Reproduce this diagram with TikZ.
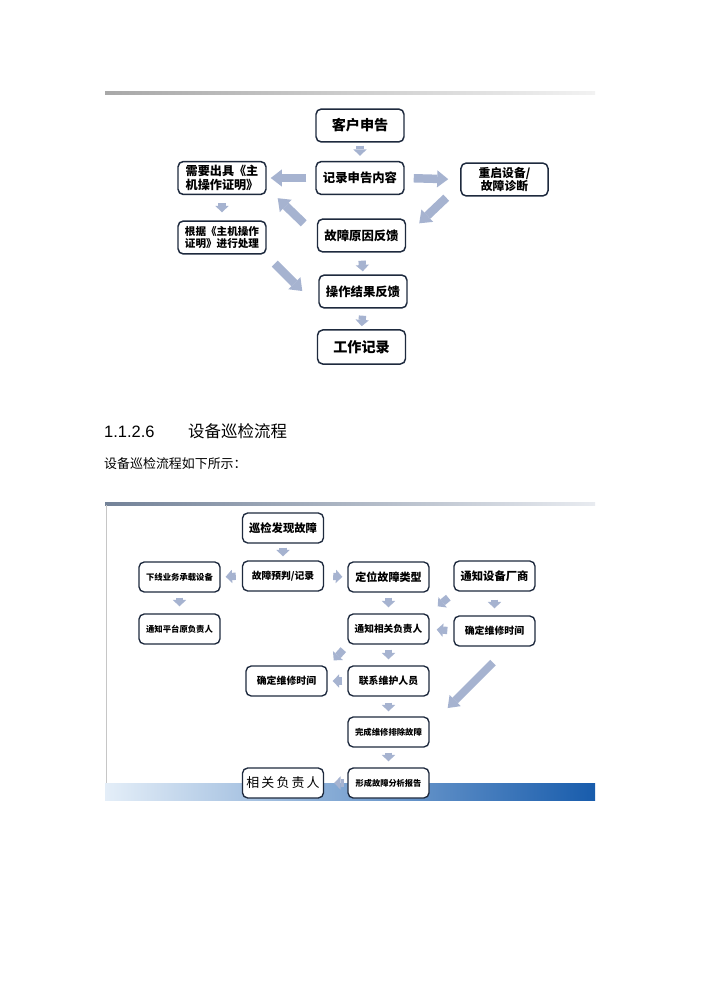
\documentclass[tikz,border=0pt]{standalone}
\usepackage{fontspec}
\setmainfont{Liberation Sans}
\newfontfamily\cjk{Noto Sans CJK SC}
\newfontfamily\arialf{Liberation Sans}
\usetikzlibrary{arrows.meta,calc,positioning}
\definecolor{boxc}{RGB}{30,42,62}
\definecolor{arrowc}{RGB}{166,179,208}
\newdimen\pxu \pxu=0.85pt
\tikzset{
  boxA/.style={draw=boxc, line width=1.25pt, rounded corners=4.5pt, fill=white,
    minimum width=74.8pt, minimum height=28pt, inner sep=1pt, align=center,
    font=\cjk\bfseries\fontsize{10.5}{12}\selectfont},
  boxB/.style={draw=boxc, line width=1.15pt, rounded corners=4.5pt, fill=white,
    minimum width=68.9pt, minimum height=25.5pt, inner sep=1pt, align=center,
    font=\cjk\bfseries\fontsize{8.4}{10}\selectfont},
  bigA/.style={draw=arrowc, line width=7.2pt,
    -{Triangle[width=14.5pt,length=9.4pt,line width=0pt]}},
  midA/.style={draw=arrowc, line width=6.6pt,
    -{Triangle[width=13.5pt,length=9pt,line width=0pt]}},
  smallA/.style={draw=arrowc, line width=6.2pt,
    -{Triangle[width=11.4pt,length=5.4pt,line width=0pt]}},
}
\begin{document}
\begin{tikzpicture}[x=0.85pt,y=-0.85pt]
\fill[white] (0,0) rectangle (700,990);
\useasboundingbox (0,0) rectangle (700,990);

% ---------- first diagram ----------
\shade[left color={rgb,255:red,168;green,168;blue,168}, right color={rgb,255:red,242;green,242;blue,242}] (105,91.8) rectangle (595,94.2);

\node[boxA, font=\cjk\bfseries\fontsize{12}{14}\selectfont] (kh) at (360,125.5) {客户申告};
\node[boxA] (jl) at (360,178) {记录申告内容};
\node[boxA, font=\cjk\bfseries\fontsize{10.3}{11.5}\selectfont] (xy) at (222,178) {需要出具《主\\机操作证明》};
\node[boxA, minimum width=74pt, font=\cjk\bfseries\fontsize{10}{11.5}\selectfont] (cq) at (504.5,179.5) {重启设备/\\故障诊断};
\node[boxA] (gy) at (361.5,235.5) {故障原因反馈};
\node[boxA, font=\cjk\bfseries\fontsize{9}{10.5}\selectfont] (gj) at (222,237.5) {根据《主机操作\\证明》进行处理};
\node[boxA] (cz) at (363,291.5) {操作结果反馈};
\node[boxA, minimum height=29pt, font=\cjk\bfseries\fontsize{12}{14}\selectfont] (gz) at (361.5,347) {工作记录};

\draw[smallA, shorten <=3\pxu, shorten >=5\pxu] (kh.south) -- (jl.north);
\draw[bigA, shorten <=9\pxu, shorten >=4\pxu] (jl.west) -- (xy.east);
\draw[bigA, shorten <=9\pxu, shorten >=12\pxu] (jl.east) -- (cq.west);
\draw[bigA] ($(cq.south west)+(-14,1)$) -- ($(gy.north east)+(13,5)$);
\draw[bigA] ($(gy.north west)+(-13,5)$) -- ($(xy.south east)+(11,3)$);
\draw[smallA, shorten <=8\pxu, shorten >=8\pxu] (xy.south) -- (gj.north);
\draw[bigA] ($(gj.south east)+(8,9)$) -- ($(cz.west)+(-16,-0.5)$);
\draw[smallA, shorten <=8\pxu, shorten >=3\pxu] (gy.south) -- (cz.north);
\draw[smallA, shorten <=7\pxu, shorten >=3\pxu] (cz.south) -- (gz.north);

% ---------- heading and text ----------
\node[anchor=base west, inner sep=0pt, font=\arialf\fontsize{14}{16}\selectfont] (hnum) at (104,437) {1.1.2.6};
\node[anchor=base west, inner sep=0pt, font=\cjk\fontsize{14}{16}\selectfont] (htxt) at (188,437) {设备巡检流程};
\node[anchor=base west, inner sep=0pt, font=\cjk\fontsize{11}{13}\selectfont] (body) at (104,468) {设备巡检流程如下所示：};

% ---------- second diagram frame ----------
\shade[left color={rgb,255:red,115;green,130;blue,152}, right color={rgb,255:red,232;green,235;blue,240}] (105,502) rectangle (595,505);
\draw[gray!45, line width=0.7pt] (106,505) -- (106,783);
\shade[left color={rgb,255:red,228;green,238;blue,248}, middle color={rgb,255:red,110;green,155;blue,208}, right color={rgb,255:red,24;green,92;blue,172}] (105,783) rectangle (595,800);

% ---------- second diagram nodes ----------
\node[boxB, font=\cjk\bfseries\fontsize{9.6}{11}\selectfont] (xj) at (283,528) {巡检发现故障};
\node[boxB, font=\cjk\bfseries\fontsize{8.3}{10}\selectfont] (gp) at (283,576) {故障预判/记录};
\node[boxB, font=\cjk\bfseries\fontsize{7.1}{9}\selectfont] (xx) at (179.5,577) {下线业务承载设备};
\node[boxB, font=\cjk\bfseries\fontsize{9.4}{11}\selectfont] (dw) at (388.5,577) {定位故障类型};
\node[boxB, font=\cjk\bfseries\fontsize{9.6}{11}\selectfont] (tz) at (494.5,576) {通知设备厂商};
\node[boxB, font=\cjk\bfseries\fontsize{7.1}{9}\selectfont] (tp) at (179.5,629) {通知平台原负责人};
\node[boxB, font=\cjk\bfseries\fontsize{8.2}{10}\selectfont] (tx) at (388.5,629) {通知相关负责人};
\node[boxB] (qr) at (494.5,631) {确定维修时间};
\node[boxB] (ql) at (286.5,681) {确定维修时间};
\node[boxB] (lx) at (388.5,681) {联系维护人员};
\node[boxB, font=\cjk\bfseries\fontsize{7.1}{9}\selectfont] (wc) at (388.5,732) {完成维修排除故障};
\node[boxB, font=\cjk\bfseries\fontsize{7}{9}\selectfont] (xc) at (388.5,783) {形成故障分析报告};
\node[boxB, font=\cjk\fontsize{11}{13}\selectfont] (xg) at (283,783) {相\,关\,负\,责\,人};

% ---------- second diagram arrows ----------
\draw[smallA, shorten <=4\pxu, shorten >=4\pxu] (xj.south) -- (gp.north);
\draw[smallA, shorten <=6\pxu, shorten >=5\pxu] (gp.west) -- (xx.east);
\draw[smallA, shorten <=9\pxu, shorten >=5\pxu] (gp.east) -- (dw.west);
\draw[smallA, shorten <=5\pxu, shorten >=7\pxu] (xx.south) -- (tp.north);
\draw[smallA, shorten <=5\pxu, shorten >=6\pxu] (dw.south) -- (tx.north);
\draw[smallA] ($(tz.south west)+(-5,6)$) -- ($(tx.north east)+(8,-7)$);
\draw[smallA, shorten <=8\pxu, shorten >=7\pxu] (tz.south) -- (qr.north);
\draw[smallA, shorten <=6\pxu, shorten >=7\pxu] (qr.west) -- (tx.east);
\draw[smallA] ($(tx.south west)+(-4,5)$) -- ($(ql.north east)+(6,-5)$);
\draw[smallA, shorten <=5\pxu, shorten >=6\pxu] (tx.south) -- (lx.north);
\draw[smallA, shorten <=5\pxu, shorten >=5\pxu] (lx.west) -- (ql.east);
\draw[smallA, shorten <=6\pxu, shorten >=5\pxu] (lx.south) -- (wc.north);
\draw[midA] ($(qr.south)+(-1.5,16)$) -- ($(wc.east)+(18,-24)$);
\draw[smallA, shorten <=5\pxu, shorten >=6\pxu] (wc.south) -- (xc.north);
\draw[smallA, shorten <=3\pxu, shorten >=10\pxu] (xc.west) -- (xg.east);
\end{tikzpicture}
\end{document}
